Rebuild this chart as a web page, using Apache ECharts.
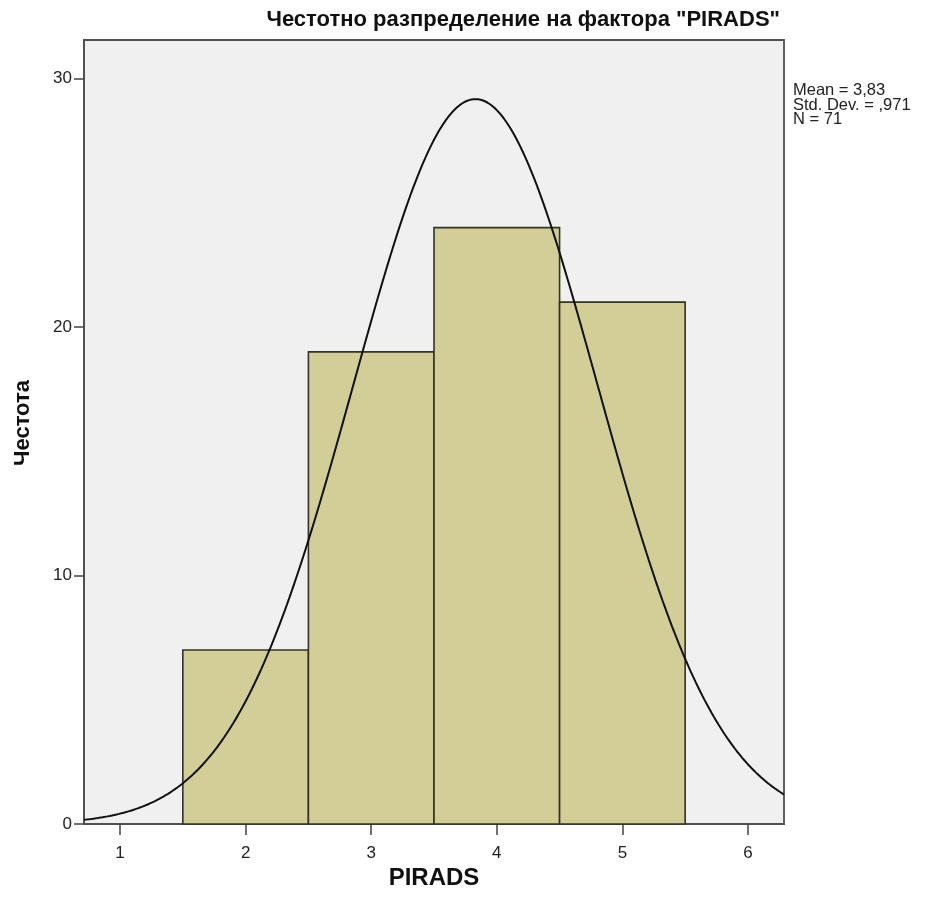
<!DOCTYPE html>
<html>
<head>
<meta charset="utf-8">
<script src="https://cdn.jsdelivr.net/npm/echarts@6/dist/echarts.min.js"></script>
<style>
  html, body { margin: 0; padding: 0; background: #ffffff; }
  #chart { width: 928px; height: 908px; }
</style>
</head>
<body>
<div id="chart"></div>
<script>
// PIRADS score categories and their counts
const scores = [2, 3, 4, 5];
const counts = [7, 19, 24, 21];

// Summary statistics shown beside the plot
const statMean = 3.83;
const statSd = 0.971;
const statN = 71;
const statLines = ['Mean = 3,83', 'Std. Dev. = ,971', 'N = 71'];

// Axis tick labels
const xTicks = [1, 2, 3, 4, 5, 6];
const yTicks = [0, 10, 20, 30];

const xMin = 0.713, xMax = 6.287;
const yMin = 0, yMax = 31.55;
const binWidth = 1;

// Fitted normal curve scaled to the histogram counts
const curve = [];
const steps = 300;
for (let i = 0; i <= steps; i++) {
  const x = xMin + (xMax - xMin) * i / steps;
  const z = (x - statMean) / statSd;
  const y = statN * binWidth * Math.exp(-0.5 * z * z) / (statSd * Math.sqrt(2 * Math.PI));
  curve.push([x, y]);
}

const bars = scores.map((s, i) => [s, counts[i]]);

const sans = '"Liberation Sans", Arial, sans-serif';

const chart = echarts.init(document.getElementById('chart'), null, { renderer: 'canvas' });
chart.setOption({
  animation: false,
  backgroundColor: '#ffffff',
  title: {
    text: 'Честотно разпределение на фактора "PIRADS"',
    right: 143,
    top: 4,
    textStyle: { fontFamily: sans, fontWeight: 'bold', fontSize: 22, color: '#111' }
  },
  graphic: [{
    type: 'text',
    left: 793,
    top: 82,
    style: {
      text: statLines.join('\n'),
      font: '16.5px ' + sans,
      lineHeight: 14.5,
      fill: '#222'
    }
  }],
  grid: {
    left: 84, right: 144, top: 40, bottom: 84,
    outerBoundsMode: 'none',
    containLabel: false,
    show: true,
    backgroundColor: '#f0f0f0',
    borderColor: '#505050',
    borderWidth: 1.8
  },
  xAxis: {
    type: 'value',
    min: xMin, max: xMax,
    name: 'PIRADS',
    nameLocation: 'middle',
    nameGap: 42,
    nameMoveOverlap: false,
    nameTextStyle: { fontFamily: sans, fontWeight: 'bold', fontSize: 24, color: '#111' },
    axisLine: { show: true, onZero: false, lineStyle: { color: '#505050', width: 1.8 } },
    axisTick: { show: true, length: 11, customValues: xTicks, lineStyle: { color: '#444', width: 1.5 } },
    axisLabel: { customValues: xTicks, margin: 21, fontFamily: sans, fontSize: 17, color: '#222' },
    splitLine: { show: false }
  },
  yAxis: {
    type: 'value',
    min: yMin, max: yMax,
    name: 'Честота',
    nameLocation: 'middle',
    nameGap: 50,
    nameRotate: 90,
    nameMoveOverlap: false,
    nameTextStyle: { fontFamily: sans, fontWeight: 'bold', fontSize: 22, color: '#111', padding: [0, 0, 0, 18] },
    axisLine: { show: true, lineStyle: { color: '#505050', width: 1.8 } },
    axisTick: { show: true, length: 10, customValues: yTicks, lineStyle: { color: '#444', width: 1.5 } },
    axisLabel: { customValues: yTicks, margin: 12, fontFamily: sans, fontSize: 17, color: '#222' },
    splitLine: { show: false }
  },
  series: [
    {
      type: 'custom',
      data: bars,
      renderItem: function (params, api) {
        const x = api.value(0), y = api.value(1);
        const p0 = api.coord([x - binWidth / 2, 0]);
        const p1 = api.coord([x + binWidth / 2, y]);
        return {
          type: 'rect',
          shape: { x: p0[0], y: p1[1], width: p1[0] - p0[0], height: p0[1] - p1[1] },
          style: { fill: '#d3ce98', stroke: '#333322', lineWidth: 1.6 }
        };
      },
      z: 2
    },
    {
      type: 'line',
      data: curve,
      showSymbol: false,
      smooth: false,
      lineStyle: { color: '#111', width: 2 },
      z: 3
    }
  ]
});
</script>
</body>
</html>
